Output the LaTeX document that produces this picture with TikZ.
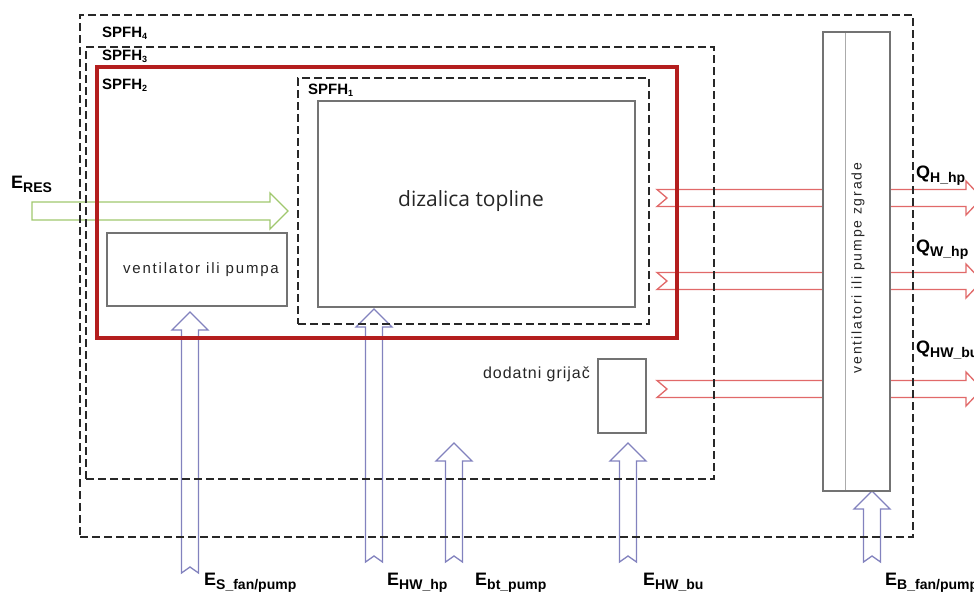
\documentclass[tikz,border=0pt]{standalone}
\usepackage{fontspec}
\setmainfont{Liberation Sans}
\newfontfamily\osans{Open Sans}
\usetikzlibrary{fit}
\definecolor{dashgray}{RGB}{40,40,40}
\definecolor{spred}{RGB}{180,30,30}
\definecolor{qred}{RGB}{225,105,105}
\definecolor{eblue}{RGB}{130,130,190}
\definecolor{egreen}{RGB}{160,200,110}
\definecolor{boxgray}{RGB}{115,115,115}
\newcommand\biglab[2]{\textbf{\fontsize{18}{18}\selectfont #1\raisebox{-4.5pt}{\fontsize{14}{14}\selectfont #2}}}
\newcommand\spfhlab[1]{\textbf{\fontsize{15}{15}\selectfont SPFH\raisebox{-2.5pt}{\fontsize{9}{9}\selectfont #1}}}
% hollow right arrow: style, x tail, x tip, y centre, notch depth
\newcommand\rarr[5]{\draw[#1] ({#2},{#4-8.5}) -- ({#3-16},{#4-8.5}) -- ({#3-16},{#4-17}) -- ({#3},{#4}) -- ({#3-16},{#4+17}) -- ({#3-16},{#4+8.5}) -- ({#2},{#4+8.5}) -- ({#2+#5},{#4}) -- cycle;}
% hollow up arrow: style, x centre, y tail, y tip, notch depth
\newcommand\uarr[5]{\draw[#1] ({#2-8.5},{#3}) -- ({#2-8.5},{#4+18}) -- ({#2-18},{#4+18}) -- ({#2},{#4}) -- ({#2+18},{#4+18}) -- ({#2+8.5},{#4+18}) -- ({#2+8.5},{#3}) -- ({#2},{#3-#5}) -- cycle;}
\begin{document}
\begin{tikzpicture}[x=1pt,y=-1pt,
  frame/.style={draw=dashgray,line width=2.2pt,dash pattern=on 8pt off 4pt,inner sep=0pt},
  redframe/.style={draw=spred,line width=4.5pt,inner sep=0pt},
  graybox/.style={draw=boxgray,line width=1.3pt,fill=white,inner sep=0pt},
  qarrow/.style={draw=qred,line width=1.3pt,fill=white},
  earrow/.style={draw=eblue,line width=1.3pt,fill=white},
  garrow/.style={draw=egreen,line width=1.3pt,fill=white},
  lab/.style={anchor=base west,inner sep=0pt}]
\useasboundingbox (0,0) rectangle (974,592);
% energy flows (under the boxes)
\rarr{qarrow}{657}{982}{198}{10}
\rarr{qarrow}{657}{982}{281}{10}
\rarr{qarrow}{657}{982}{389}{10}
\uarr{earrow}{190}{573}{312}{6}
\uarr{earrow}{374}{562}{309}{6}
\uarr{earrow}{454}{562}{443}{6}
\uarr{earrow}{628}{562}{443}{6}
\uarr{earrow}{872}{562}{491}{6}
\draw[garrow] (32,202) -- (270,202) -- (270,193) -- (288,211) -- (270,229) -- (270,220) -- (32,220) -- cycle;
% components
\node[graybox,fit={(318,101) (635,307)}] (hp) {};
\node[font=\osans\fontsize{21}{21}\selectfont,text=black!85] (hptext) at (471,201) {dizalica topline};
\node[graybox,fit={(107,233) (287,306)}] (fan) {};
\node[font=\fontsize{15}{15}\selectfont\addfontfeature{LetterSpace=12},text=black!85] (fantext) at (201,270) {ventilator ili pumpa};
\node[graybox,fit={(598,359) (646,433)}] (bu) {};
\node[font=\fontsize{16}{16}\selectfont\addfontfeature{LetterSpace=6},text=black!85,anchor=base east,inner sep=0pt] (butext) at (590,378) {dodatni grijač};
\node[graybox,fit={(823,32) (890,491)}] (bld) {};
\draw[boxgray!60,line width=0.8pt] (845,33) -- (845,490);
\node[font=\fontsize{14}{14}\selectfont\addfontfeature{LetterSpace=13},text=black!85,rotate=90] (bldtext) at (858,268) {ventilatori ili pumpe zgrade};
% system boundaries
\node[frame,fit={(80,15) (913,537)}] (s4) {};
\node[frame,fit={(86,47) (714,479)}] (s3) {};
\node[redframe,fit={(97,67) (677,338)}] (s2) {};
\node[frame,fit={(298,78) (649,324)}] (s1) {};
\node[lab] (l4) at (102,37) {\spfhlab{4}};
\node[lab] (l3) at (102,60) {\spfhlab{3}};
\node[lab] (l2) at (102,89) {\spfhlab{2}};
\node[lab] (l1) at (308,94) {\spfhlab{1}};
% labels
\node[lab] (eres) at (11,188) {\biglab{E}{RES}};
\node[lab] (qh) at (916,178) {\biglab{Q}{H\_hp}};
\node[lab] (qw) at (916,252) {\biglab{Q}{W\_hp}};
\node[lab] (qhw) at (916,353) {\biglab{Q}{HW\_bu}};
\node[lab] (es) at (204,585) {\biglab{E}{S\_fan/pump}};
\node[lab] (ehw) at (387,585) {\biglab{E}{HW\_hp}};
\node[lab] (ebt) at (475,585) {\biglab{E}{bt\_pump}};
\node[lab] (ehwbu) at (643,585) {\biglab{E}{HW\_bu}};
\node[lab] (eb) at (885,585) {\biglab{E}{B\_fan/pump}};
\end{tikzpicture}
\end{document}
